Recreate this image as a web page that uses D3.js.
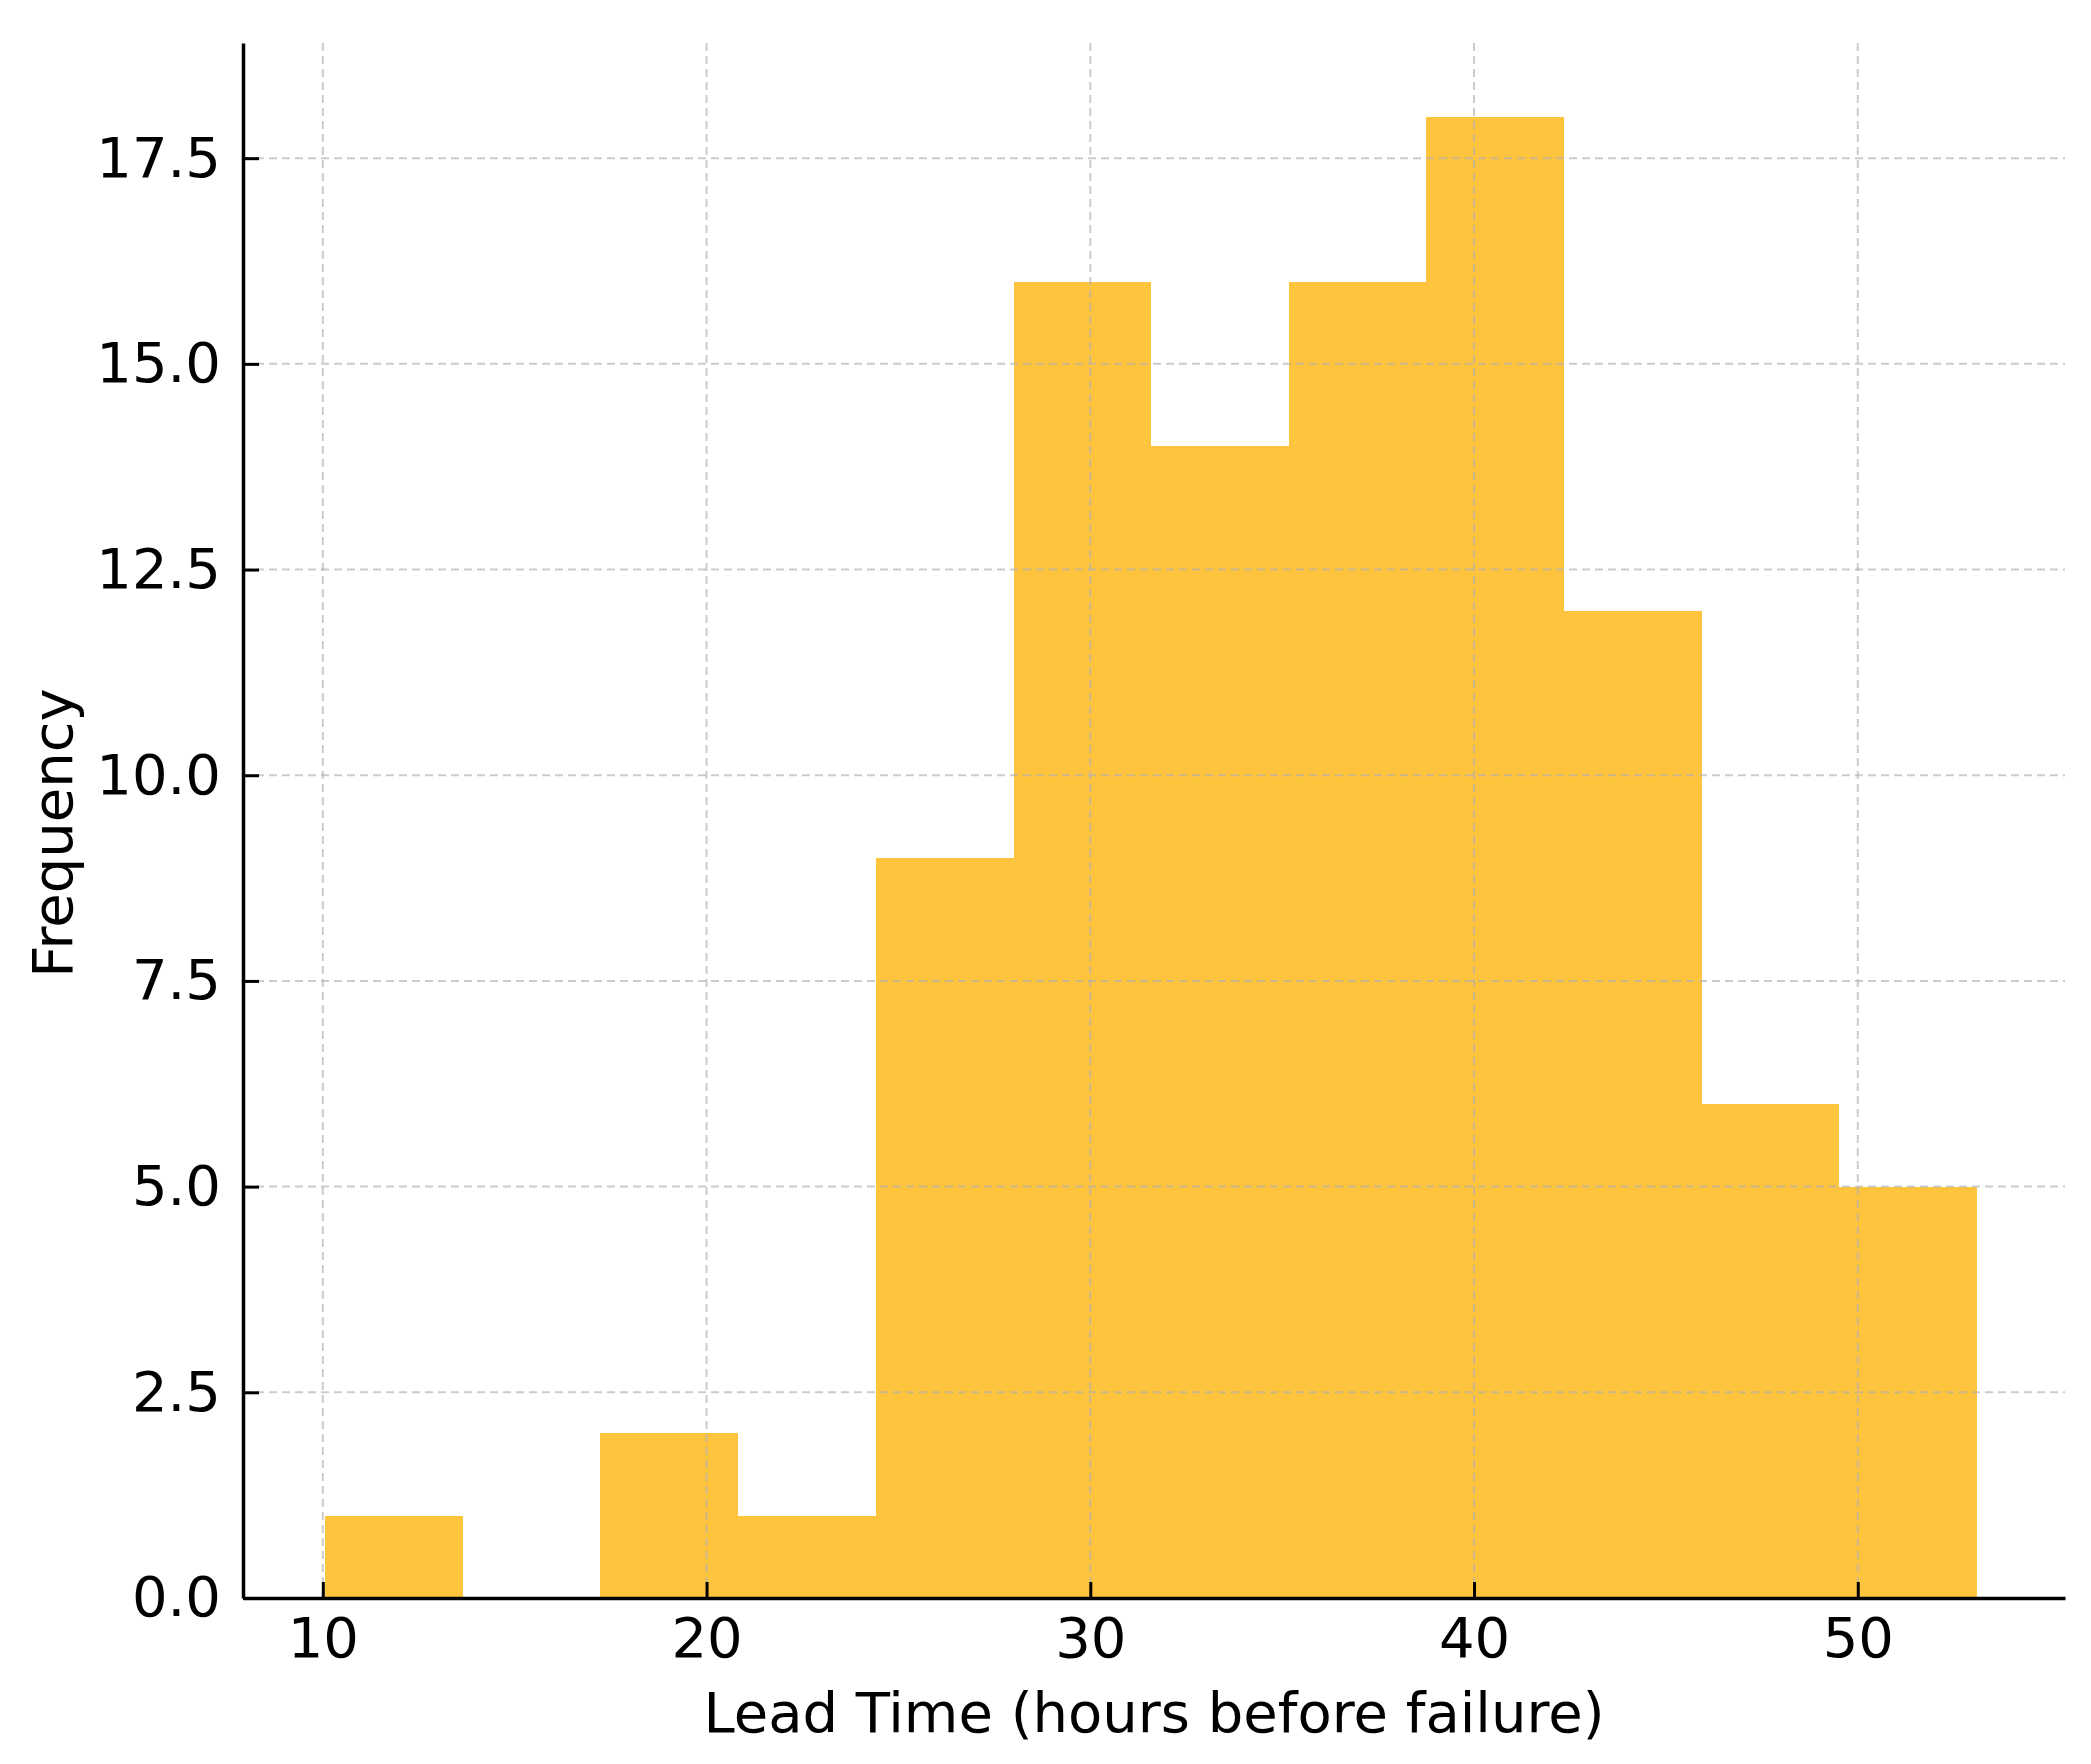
<!DOCTYPE html>
<html>
<head>
<meta charset="utf-8">
<script src="https://cdn.jsdelivr.net/npm/d3@7"></script>
<style>
  body { margin: 0; background: #fff; }
  text { font-family: "DejaVu Sans", sans-serif; fill: #000; }
</style>
</head>
<body>
<svg id="chart" width="2091" height="1764"></svg>
<script>
// histogram bins
const binEdges = [10.06, 13.65, 17.23, 20.82, 24.41, 28.0, 31.58, 35.17, 38.76, 42.34, 45.93, 49.52, 53.10];
const counts = [1, 0, 2, 1, 9, 16, 14, 16, 18, 12, 6, 5];
const xTicks = [10, 20, 30, 40, 50];
const yTicks = [0, 2.5, 5, 7.5, 10, 12.5, 15, 17.5];
const xTitle = "Lead Time (hours before failure)";
const yTitle = "Frequency";

let w = 2091;
let h = 1764;
let m = {top: 43, right: 26, bottom: 166, left: 243};
let fontSize = "56px";

let bins = counts.map((c, i) => ({x0: binEdges[i], x1: binEdges[i + 1], n: c}));

let svg = d3.select("#chart");

let xScale = d3.scaleLinear()
    .domain([7.92, 55.4])
    .range([m.left, w - m.right]);

let yScale = d3.scaleLinear()
    .domain([0, 18.9])
    .range([h - m.bottom, m.top]);

// bars
svg.append("g")
    .attr("shape-rendering", "crispEdges")
    .selectAll("rect")
    .data(bins.filter(b => b.n > 0))
    .enter()
    .append("rect")
    .attr("x", b => xScale(b.x0))
    .attr("width", b => xScale(b.x1) - xScale(b.x0))
    .attr("y", b => yScale(b.n))
    .attr("height", b => yScale(0) - yScale(b.n))
    .attr("fill", "#ffc43d");

// grid sits on top of the bars in the reference
let grid = svg.append("g")
    .attr("stroke", "#b0b0b0")
    .attr("stroke-opacity", 0.65)
    .attr("stroke-width", 2)
    .attr("stroke-dasharray", "8,5");

grid.selectAll("line.gx")
    .data(xTicks)
    .enter()
    .append("line")
    .attr("class", "gx")
    .attr("x1", d => xScale(d)).attr("x2", d => xScale(d))
    .attr("y1", yScale.range()[0]).attr("y2", yScale.range()[1]);

grid.selectAll("line.gy")
    .data(yTicks)
    .enter()
    .append("line")
    .attr("class", "gy")
    .attr("y1", d => yScale(d)).attr("y2", d => yScale(d))
    .attr("x1", xScale.range()[0]).attr("x2", xScale.range()[1]);

// axes, ticks pointing inward
let xAxis = d3.axisBottom(xScale)
    .tickValues(xTicks)
    .tickSizeInner(-16)
    .tickSizeOuter(0)
    .tickPadding(19)
    .tickFormat(d3.format("d"));

let gx = svg.append("g")
    .attr("transform", "translate(0," + (h - m.bottom) + ")")
    .call(xAxis);

let yAxis = d3.axisLeft(yScale)
    .tickValues(yTicks)
    .tickSizeInner(-16)
    .tickSizeOuter(0)
    .tickPadding(22)
    .tickFormat(d3.format(".1f"));

let gy = svg.append("g")
    .attr("transform", "translate(" + m.left + ",0)")
    .call(yAxis);

[gx, gy].forEach(g => {
    g.selectAll(".domain").attr("stroke", "#000").attr("stroke-width", 3.5);
    g.selectAll(".tick line").attr("stroke", "#000").attr("stroke-width", 3);
    g.selectAll(".tick text")
        .style("font-family", "DejaVu Sans")
        .style("font-size", fontSize)
        .attr("fill", "#000");
});

// axis titles
svg.append("text")
    .attr("x", (m.left + w - m.right) / 2)
    .attr("y", 1732)
    .attr("text-anchor", "middle")
    .style("font-size", fontSize)
    .text(xTitle);

svg.append("text")
    .attr("transform", "translate(72," + 833 + ") rotate(-90)")
    .attr("text-anchor", "middle")
    .style("font-size", fontSize)
    .text(yTitle);
</script>
</body>
</html>
